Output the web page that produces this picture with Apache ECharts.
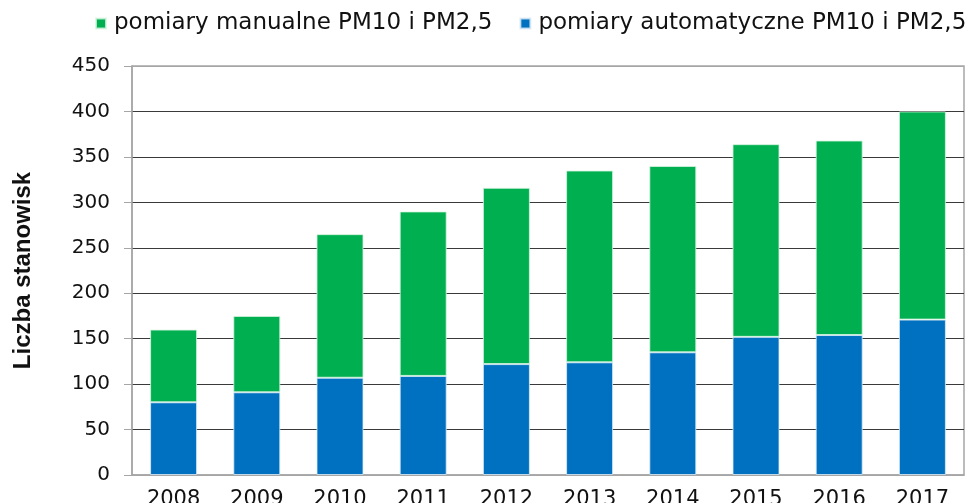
<!DOCTYPE html>
<html>
<head>
<meta charset="utf-8">
<script src="https://cdn.jsdelivr.net/npm/echarts@6/dist/echarts.min.js"></script>
<style>
    html, body {margin: 0; padding: 0; background: #fff;}
    #main {width: 968px; height: 503px;}
</style>
</head>
<body>
<div id="main"></div>
<script>
    var years = ['2008', '2009', '2010', '2011', '2012', '2013', '2014', '2015', '2016', '2017'];
    var automatyczne = [80, 91, 107, 109, 122, 124, 135, 152, 154, 171];
    var manualne = [80, 84, 158, 181, 194, 211, 205, 212, 214, 229];
    var yTicks = [0, 50, 100, 150, 200, 250, 300, 350, 400, 450];

    var nameAuto = 'pomiary automatyczne PM10 i PM2,5';
    var nameManual = 'pomiary manualne PM10 i PM2,5';

    // split line colours: outer lines gray like the frame, inner lines dark
    var gridColors = yTicks.map(function (v, i) {
        return (i === 0 || i === yTicks.length - 1) ? '#a6a6a6' : '#3a3a3a';
    });

    var chart = echarts.init(document.getElementById('main'));
    window.addEventListener('resize', function () {
        chart.resize();
    });
    chart.setOption({
        animation: false,
        textStyle: {fontFamily: 'DejaVu Sans'},
        legend: {
            data: [nameManual, nameAuto],
            left: 95, top: 12, width: 873, padding: 0,
            icon: 'rect', itemWidth: 10, itemHeight: 10, itemGap: 27,
            textStyle: {fontSize: 23, color: '#111', fontFamily: 'DejaVu Sans', padding: [0, 0, 0, 3]}
        },
        grid: {
            left: 132, right: 4, top: 66, bottom: 28,
            outerBoundsMode: 'none', containLabel: false,
            show: true, borderColor: '#a6a6a6', borderWidth: 1.5
        },
        xAxis: {
            type: 'category',
            data: years,
            axisLine: {lineStyle: {color: '#a6a6a6', width: 1.5}},
            axisTick: {show: false},
            axisLabel: {fontSize: 21, color: '#111', margin: 14}
        },
        yAxis: {
            type: 'value',
            min: 0, max: 450, interval: 50,
            name: 'Liczba stanowisk',
            nameLocation: 'middle',
            nameGap: 97,
            nameTextStyle: {fontSize: 24, fontWeight: 'bold', color: '#111', fontFamily: 'Liberation Sans'},
            axisLine: {show: true, lineStyle: {color: '#a6a6a6', width: 1.5}},
            axisTick: {show: true, length: 8, lineStyle: {color: '#a6a6a6'}},
            axisLabel: {fontSize: 20, color: '#111', margin: 22},
            splitLine: {show: true, lineStyle: {color: gridColors, width: 1.2}}
        },
        series: [
            {
                name: nameAuto, type: 'bar', stack: 'all',
                barWidth: 47,
                itemStyle: {color: '#0070c0', borderColor: 'rgba(220,235,245,0.8)', borderWidth: 1},
                data: automatyczne
            },
            {
                name: nameManual, type: 'bar', stack: 'all',
                barWidth: 47,
                itemStyle: {color: '#00b050', borderColor: 'rgba(215,245,225,0.8)', borderWidth: 1},
                data: manualne
            }
        ]
    });
</script>
</body>
</html>
